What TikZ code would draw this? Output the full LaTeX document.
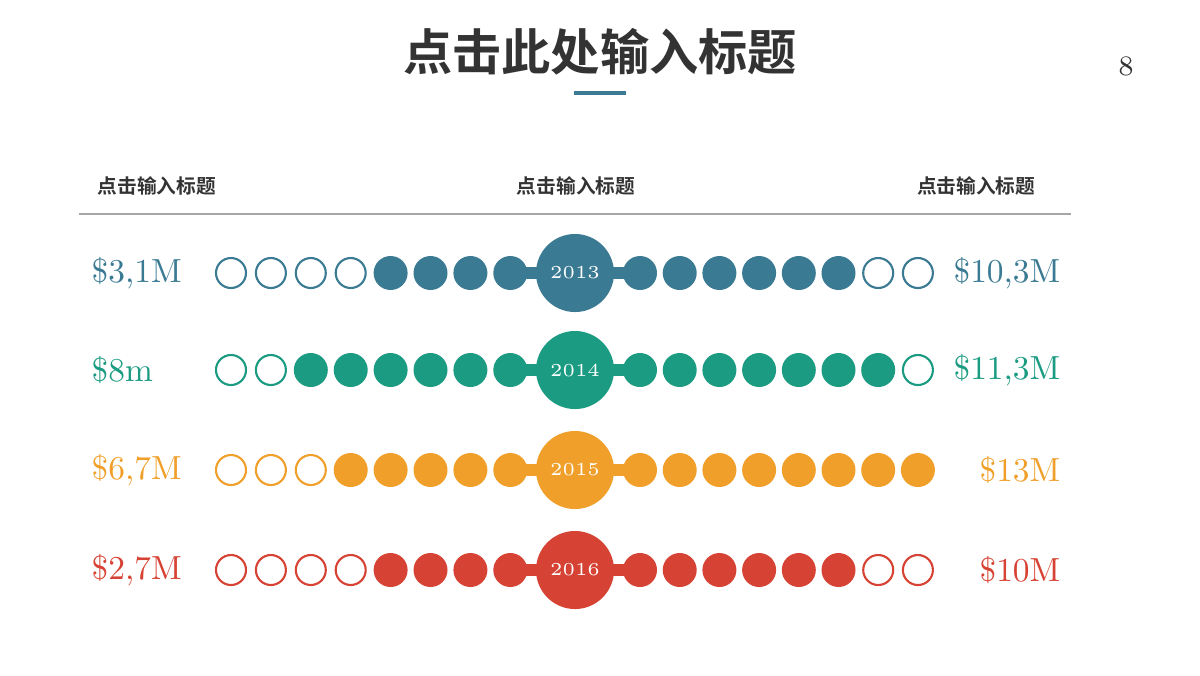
\documentclass[tikz,border=0pt]{standalone}
\usepackage{fontspec}
\newfontfamily\cjk{Noto Sans CJK SC}
\newfontfamily\cjkb{Noto Sans CJK SC Bold}
\definecolor{cA}{HTML}{3A7A93}
\definecolor{cB}{HTML}{1A9B82}
\definecolor{cC}{HTML}{F0A02A}
\definecolor{cD}{HTML}{D64233}
\definecolor{tx}{HTML}{333333}
\begin{document}
\begin{tikzpicture}[x=0.01cm,y=-0.01cm,
  hdr/.style={font=\cjkb\fontsize{5.6pt}{6.5pt}\selectfont,text=tx,inner sep=0},
  money/.style={font=\fontsize{9.5pt}{11pt}\selectfont,inner sep=0},
  yr/.style={font=\fontsize{5.2pt}{6pt}\selectfont,text=white}]
\useasboundingbox (0,0) rectangle (1200,675);
\node[font=\cjkb\fontsize{14pt}{16pt}\selectfont,text=tx] (title) at (600,52) {点击此处输入标题};
\draw[cA,line width=0.9pt] (574,93) -- (626,93);
\node[font=\fontsize{8pt}{9pt}\selectfont,text=tx] (pg) at (1126,66) {8};
\node[hdr,anchor=west] (h1) at (97,186) {点击输入标题};
\node[hdr] (h2) at (576,186) {点击输入标题};
\node[hdr,anchor=east] (h3) at (1036,186) {点击输入标题};
\draw[gray!70,line width=0.3pt] (79,214) -- (1071,214);
\foreach \y/\c/\yr/\lo/\ro/\lt/\rt [count=\i] in {
  273/cA/2013/4/2/{\$3,1M}/{\$10,3M},
  370/cB/2014/2/1/{\$8m}/{\$11,3M},
  470/cC/2015/3/0/{\$6,7M}/{\$13M},
  570/cD/2016/4/2/{\$2,7M}/{\$10M}}{
  \fill[\c] (510,\y-6) rectangle (640,\y+6);
  \foreach \k in {0,...,7}{
    \pgfmathtruncatemacro{\op}{\k<\lo ? 1 : 0}
    \ifnum\op=1
      \draw[\c,line width=0.6pt,fill=white] (231+39.9*\k,\y) circle (15);
    \else
      \fill[\c] (231+39.9*\k,\y) circle (17);
    \fi
    \pgfmathtruncatemacro{\opr}{\k>(7-\ro) ? 1 : 0}
    \ifnum\opr=1
      \draw[\c,line width=0.6pt,fill=white] (640+39.7*\k,\y) circle (15);
    \else
      \fill[\c] (640+39.7*\k,\y) circle (17);
    \fi
  }
  \node[circle,fill=\c,minimum size=0.78cm,inner sep=0,yr] (big\i) at (575,\y) {\yr};
  \node[money,text=\c,anchor=west] (l\i) at (91,\y) {\lt};
  \node[money,text=\c,anchor=east] (r\i) at (1061,\y) {\rt};
}
\end{tikzpicture}
\end{document}
